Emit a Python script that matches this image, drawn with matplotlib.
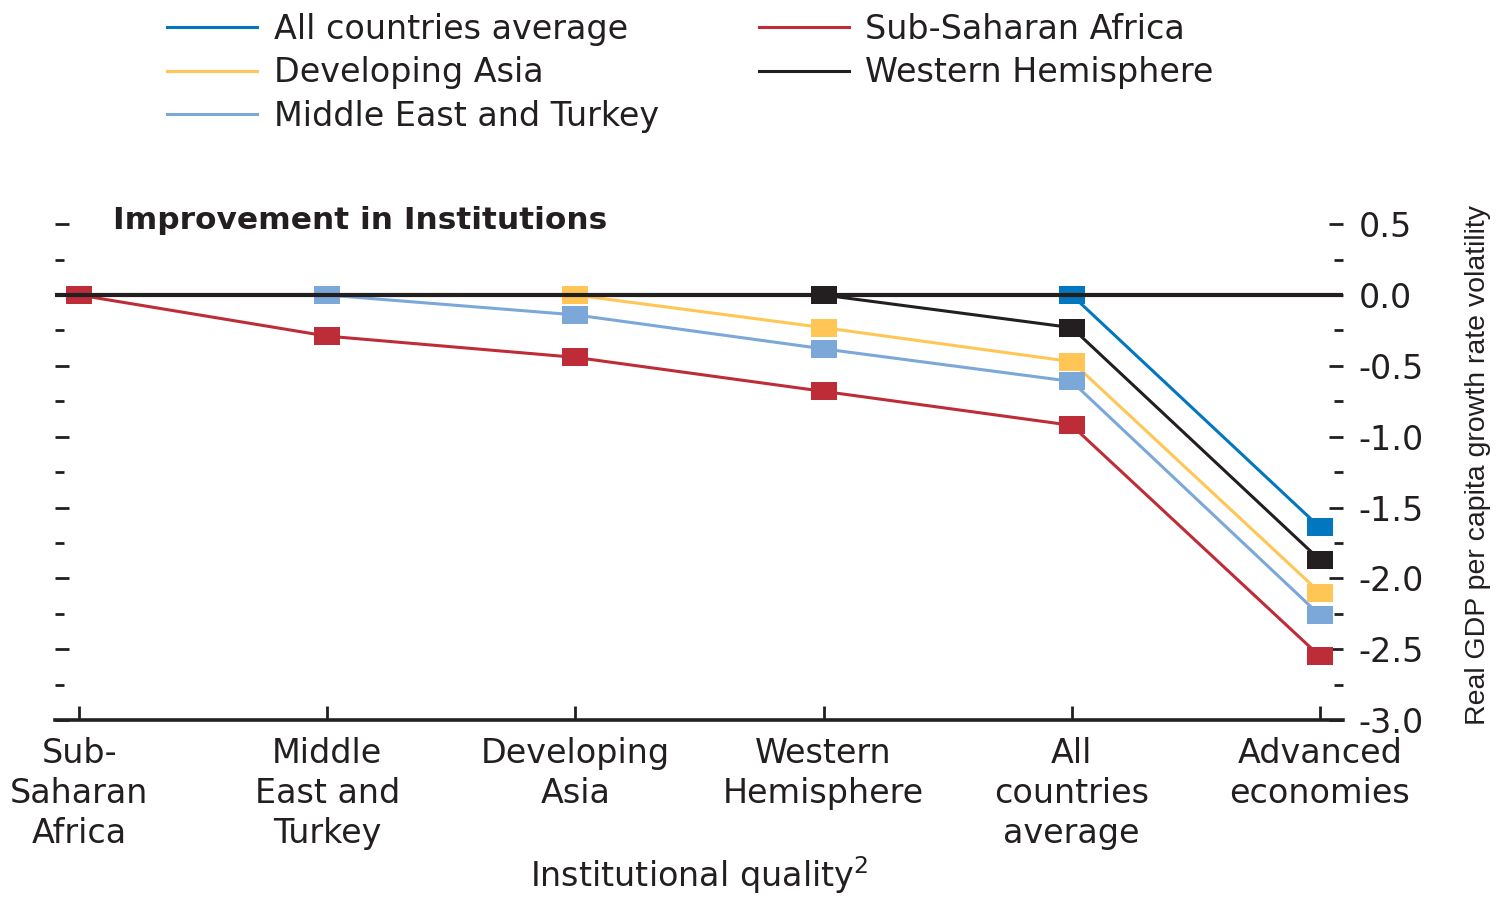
import matplotlib
matplotlib.use("Agg")
import matplotlib.pyplot as plt
from matplotlib.ticker import MultipleLocator, FormatStrFormatter

# 数据
categories = ['Sub-\nSaharan\nAfrica', 'Middle\nEast and\nTurkey', 'Developing\nAsia',
              'Western\nHemisphere', 'All\ncountries\naverage', 'Advanced\neconomies']

all_countries = [0.0, -1.64]                          # 从 All countries average 开始
developing_asia = [0.0, -0.23, -0.47, -2.10]          # 从 Developing Asia 开始
middle_east = [0.0, -0.14, -0.38, -0.61, -2.26]       # 从 Middle East and Turkey 开始
sub_saharan = [0.0, -0.29, -0.44, -0.68, -0.92, -2.55]
western_hem = [0.0, -0.23, -1.87]                     # 从 Western Hemisphere 开始

series = [
    ('All countries average', all_countries, 4, '#0077BE'),
    ('Developing Asia', developing_asia, 2, '#FFC655'),
    ('Middle East and Turkey', middle_east, 1, '#7BA8D8'),
    ('Sub-Saharan Africa', sub_saharan, 0, '#BE2D37'),
    ('Western Hemisphere', western_hem, 3, '#231F20'),
]

ink = '#231F20'
plt.rcParams['font.family'] = ['DejaVu Sans']
plt.rcParams['mathtext.fontset'] = 'dejavusans'

fig = plt.figure(figsize=(15.11, 8.98), dpi=100)
ax = fig.add_axes([0.0364, 0.1982, 0.8524, 0.5679])

# 横向略宽的方形标记
rect = [(-1.35, -1), (1.35, -1), (1.35, 1), (-1.35, 1), (-1.35, -1)]

handles = []
for name, vals, start, color in series:
    xs = list(range(start, start + len(vals)))
    line, = ax.plot(xs, vals, color=color, lw=2.2, label=name, zorder=3)
    ax.plot(xs, vals, ls='none', marker=rect, markersize=18, color=color,
            markeredgewidth=0, zorder=4)
    handles.append(line)

ax.axhline(0, color=ink, lw=3, zorder=6)

ax.set_xlim(-0.097, 5.093)
ax.set_ylim(-3.0, 0.6)

for s in ['left', 'top', 'right']:
    ax.spines[s].set_visible(False)
ax.spines['bottom'].set_linewidth(2.6)
ax.spines['bottom'].set_color(ink)

ax.set_xticks(range(len(categories)))
ax.set_xticklabels(categories, fontsize=24, color=ink, linespacing=1.27)
ax.tick_params(axis='x', direction='in', length=10, width=2, color=ink, pad=12)

ax.yaxis.set_major_locator(MultipleLocator(0.5))
ax.yaxis.set_minor_locator(MultipleLocator(0.25))
ax.yaxis.set_major_formatter(FormatStrFormatter('%.1f'))
ax.tick_params(axis='y', which='both', direction='in', left=True, right=True,
               labelleft=False, labelright=True, color=ink, width=2,
               labelsize=24, labelcolor=ink, pad=11)
ax.tick_params(axis='y', which='major', length=10)
ax.tick_params(axis='y', which='minor', length=6.5)

ax.set_xlabel(r'Institutional quality$^{2}$', fontsize=24, color=ink, labelpad=3)
ax.yaxis.set_label_position('right')
ax.set_ylabel('Real GDP per capita growth rate volatility', fontsize=20.5, color=ink,
              family=['Liberation Sans', 'DejaVu Sans'], labelpad=30)

ax.text(0.045, 0.98, 'Improvement in Institutions', transform=ax.transAxes,
        fontsize=22.5, fontweight='bold', color=ink, va='center', ha='left')

fig.legend(handles, [h.get_label() for h in handles], loc='upper left',
           bbox_to_anchor=(0.1105, 0.986), ncol=2, frameon=False, fontsize=24,
           handlelength=2.7, handletextpad=0.5, columnspacing=3.0,
           labelspacing=0.32, borderpad=0, borderaxespad=0, labelcolor=ink)

fig.savefig('out.png', dpi=100)
